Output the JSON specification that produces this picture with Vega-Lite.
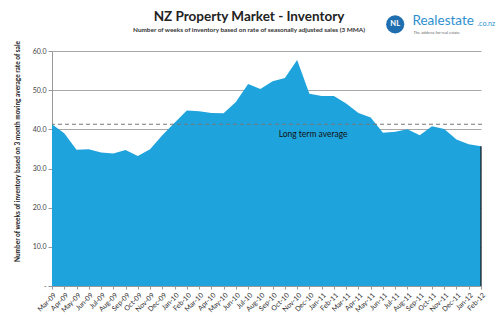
{
  "$schema": "https://vega.github.io/schema/vega-lite/v6.json",
  "width": 430,
  "height": 235,
  "autosize": {"type": "none"},
  "padding": {"left": 52, "top": 51, "right": 18, "bottom": 44},
  "background": "white",
  "title": {
    "text": "NZ Property Market - Inventory",
    "subtitle": "Number of weeks of inventory based on rate of seasonally adjusted sales (3 MMA)",
    "font": "Lato", "fontSize": 13.5, "fontWeight": "bold", "color": "#222",
    "subtitleFont": "Lato", "subtitleFontSize": 6.4, "subtitleFontWeight": "bold", "subtitleColor": "#333",
    "anchor": "middle", "frame": "group", "offset": -19, "subtitlePadding": 3, "dx": -18
  },
  "data": {"values": [
    {"m": "Mar-09", "v": 41.3}, {"m": "Apr-09", "v": 39.0}, {"m": "May-09", "v": 34.8}, {"m": "Jun-09", "v": 34.9},
    {"m": "Jul-09", "v": 34.1}, {"m": "Aug-09", "v": 33.8}, {"m": "Sep-09", "v": 34.7}, {"m": "Oct-09", "v": 33.2},
    {"m": "Nov-09", "v": 34.9}, {"m": "Dec-09", "v": 38.5}, {"m": "Jan-10", "v": 41.7}, {"m": "Feb-10", "v": 44.8},
    {"m": "Mar-10", "v": 44.6}, {"m": "Apr-10", "v": 44.2}, {"m": "May-10", "v": 44.1}, {"m": "Jun-10", "v": 47.0},
    {"m": "Jul-10", "v": 51.6}, {"m": "Aug-10", "v": 50.3}, {"m": "Sep-10", "v": 52.3}, {"m": "Oct-10", "v": 53.1},
    {"m": "Nov-10", "v": 57.7}, {"m": "Dec-10", "v": 49.1}, {"m": "Jan-11", "v": 48.5}, {"m": "Feb-11", "v": 48.5},
    {"m": "Mar-11", "v": 46.6}, {"m": "Apr-11", "v": 44.2}, {"m": "May-11", "v": 43.0}, {"m": "Jun-11", "v": 39.1},
    {"m": "Jul-11", "v": 39.4}, {"m": "Aug-11", "v": 40.0}, {"m": "Sep-11", "v": 38.5}, {"m": "Oct-11", "v": 40.8},
    {"m": "Nov-11", "v": 40.1}, {"m": "Dec-11", "v": 37.4}, {"m": "Jan-12", "v": 36.2}, {"m": "Feb-12", "v": 35.7}
  ]},
  "layer": [
    {
      "mark": {"type": "area", "color": "#1FA3DD", "interpolate": "linear"},
      "encoding": {
        "x": {"field": "m", "type": "ordinal", "sort": null,
          "scale": {"type": "point", "padding": 0, "range": [0, 429]},
          "axis": {"title": null, "labelAngle": -45, "labelFont": "Lato", "labelFontSize": 7, "labelColor": "#333",
            "domainColor": "#999", "tickColor": "#999", "tickSize": 3, "labelPadding": 2, "labelOverlap": false}},
        "y": {"field": "v", "type": "quantitative",
          "scale": {"domain": [0, 60], "nice": false},
          "axis": {"values": [0, 10, 20, 30, 40, 50, 60], "labelOverlap": false,
            "labelExpr": "datum.value == 0 ? '-' : format(datum.value, '.1f')",
            "title": "Number of weeks of inventory based on 3 month moving average rate of sale",
            "titleFont": "Lato", "titleFontSize": 6.5, "titleFontWeight": "bold", "titleColor": "#222", "titlePadding": 12,
            "titleY": 100,
            "labelFont": "Lato", "labelFontSize": 7, "labelColor": "#444",
            "grid": true, "gridColor": "#a8a8a8", "gridWidth": 1,
            "domainColor": "#999", "tickColor": "#999", "tickSize": 4}}
      }
    },
    {
      "transform": [{"filter": "datum.m == 'Feb-12'"}],
      "mark": {"type": "rule", "color": "#111", "strokeWidth": 1.2},
      "encoding": {
        "x": {"field": "m", "type": "ordinal", "sort": null},
        "y": {"field": "v", "type": "quantitative"},
        "y2": {"datum": 0}
      }
    },
    {
      "data": {"values": [{}]},
      "mark": {"type": "rule", "color": "#777", "strokeDash": [4, 3], "strokeWidth": 1.2},
      "encoding": {"y": {"datum": 41.3, "type": "quantitative"}}
    },
    {
      "data": {"values": [{}]},
      "mark": {"type": "text", "text": "Long term average", "font": "Lato", "fontSize": 8.5, "color": "#111", "align": "left", "baseline": "middle", "dx": 6, "dy": 10},
      "encoding": {"x": {"datum": "Sep-10", "type": "ordinal"}, "y": {"datum": 41.3, "type": "quantitative"}}
    },
    {
      "data": {"values": [{}]},
      "mark": {"type": "point", "shape": "circle", "filled": true, "size": 330, "color": "#1F6FB0", "opacity": 1},
      "encoding": {"x": {"datum": "Jul-11", "type": "ordinal"}, "y": {"datum": 66.8, "type": "quantitative"}}
    },
    {
      "data": {"values": [{}]},
      "mark": {"type": "text", "text": "NL", "font": "Lato", "fontSize": 7.5, "fontWeight": "bold", "color": "white", "align": "center", "baseline": "middle"},
      "encoding": {"x": {"datum": "Jul-11", "type": "ordinal"}, "y": {"datum": 66.8, "type": "quantitative"}}
    },
    {
      "data": {"values": [{}]},
      "mark": {"type": "text", "text": "Realestate", "font": "Lato", "fontSize": 13.5, "color": "#2E8FD0", "align": "left", "baseline": "middle", "dx": 5},
      "encoding": {"x": {"datum": "Aug-11", "type": "ordinal"}, "y": {"datum": 67.6, "type": "quantitative"}}
    },
    {
      "data": {"values": [{}]},
      "mark": {"type": "text", "text": ".co.nz", "font": "Lato", "fontSize": 7, "color": "#2E8FD0", "align": "left", "baseline": "middle", "dx": 70},
      "encoding": {"x": {"datum": "Aug-11", "type": "ordinal"}, "y": {"datum": 66.8, "type": "quantitative"}}
    },
    {
      "data": {"values": [{}]},
      "mark": {"type": "text", "text": "The address for real estate", "font": "Lato", "fontSize": 4, "color": "#666", "align": "left", "baseline": "middle", "dx": 6},
      "encoding": {"x": {"datum": "Aug-11", "type": "ordinal"}, "y": {"datum": 64.6, "type": "quantitative"}}
    }
  ],
  "config": {"view": {"stroke": null}, "axisY": {"tickCount": 7, "labelOverlap": false}}
}
